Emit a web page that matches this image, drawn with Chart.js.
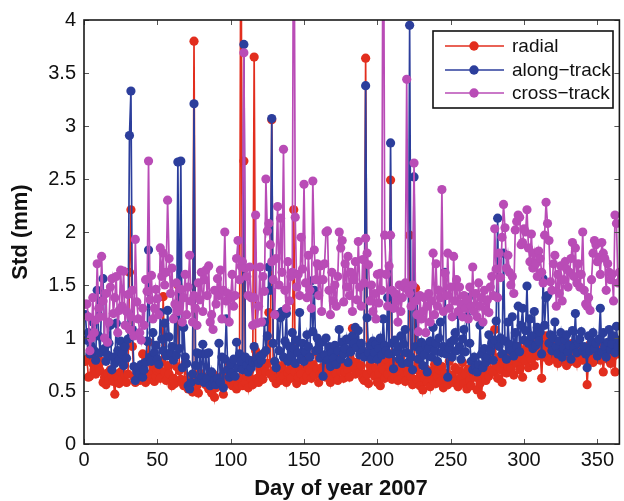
<!DOCTYPE html>
<html>
<head>
<meta charset="utf-8">
<script src="https://cdn.jsdelivr.net/npm/chart.js@4.4.1/dist/chart.umd.min.js"></script>
<style>
html,body{margin:0;padding:0;background:#fff;}
#wrap{width:624px;height:501px;}
</style>
</head>
<body>
<div id="wrap"><canvas id="c" width="624" height="501"></canvas></div>
<script>
// ---- data ----
const days = Array.from({length: 365}, (_, i) => i + 1);
const xTicks = [0, 50, 100, 150, 200, 250, 300, 350];
const yTicks = [0, 0.5, 1, 1.5, 2, 2.5, 3, 3.5, 4];
const seriesNames = ['radial', 'along\u2212track', 'cross\u2212track'];

const radial = [
0.78,0.80,0.63,0.64,0.79,0.76,0.70,0.66,0.83,0.72,
0.69,0.78,0.58,0.63,0.56,0.67,0.60,0.70,0.64,0.59,
0.47,0.66,0.62,0.57,0.68,0.61,0.74,0.65,0.58,0.66,
1.62,2.21,0.92,0.63,0.58,0.69,0.62,0.60,0.71,0.85,
0.64,0.58,0.78,0.96,0.66,0.61,0.73,0.59,0.64,0.69,
0.71,0.62,0.78,1.39,0.68,0.60,0.74,0.66,0.85,0.55,
0.62,0.57,0.73,1.50,0.69,0.61,0.58,0.55,0.77,0.60,
0.52,0.56,0.64,0.49,3.80,0.62,0.55,0.48,0.67,0.59,
0.64,0.62,0.56,0.60,0.52,0.58,0.48,0.66,0.44,0.53,
0.59,0.62,0.55,0.64,0.47,0.68,0.57,0.61,0.76,0.58,
0.55,0.60,0.63,0.52,0.56,0.62,5.50,0.55,2.67,0.58,
0.64,0.53,0.69,0.61,0.56,3.65,0.88,0.62,0.58,0.70,
0.66,0.61,0.72,0.68,0.76,1.24,0.66,3.06,0.62,0.70,
0.57,0.74,0.66,0.60,0.72,0.64,0.78,0.58,0.67,0.70,
0.62,0.74,2.21,0.68,0.57,0.63,0.71,0.66,0.79,0.60,
0.73,0.64,0.82,0.69,0.62,0.75,0.65,0.87,0.71,0.58,
0.66,0.72,0.69,0.80,0.63,0.75,0.68,0.58,0.71,0.64,
0.77,0.66,0.60,0.73,0.69,0.84,0.62,0.68,0.75,0.70,
0.63,0.79,1.09,0.72,0.66,0.77,0.90,0.68,0.74,0.62,
0.60,3.64,0.66,0.57,0.74,0.69,0.81,0.64,0.72,0.58,
0.67,0.55,0.75,0.70,0.62,0.80,0.66,0.73,2.49,0.61,
0.78,0.64,0.69,0.60,0.74,0.82,0.63,0.68,0.59,0.72,
0.67,1.97,0.63,0.56,0.70,1.47,0.61,0.74,0.55,0.66,
0.51,0.62,0.71,0.58,0.66,0.54,0.69,0.60,0.75,0.57,
0.64,0.70,0.59,0.73,0.53,0.67,0.62,0.56,0.78,0.61,
0.65,0.58,0.72,0.60,0.54,0.69,0.63,0.77,0.57,0.66,
0.52,0.71,0.60,0.55,0.68,0.63,0.74,0.51,0.62,0.57,
0.46,0.66,0.72,0.60,0.79,0.64,0.70,0.87,0.68,1.08,
0.74,0.62,0.82,0.70,0.58,0.76,0.84,0.67,0.73,0.88,
0.71,0.79,0.65,0.84,0.76,0.92,0.70,0.81,0.63,0.88,
0.78,0.93,0.72,0.85,0.80,0.96,0.74,0.89,0.83,1.00,
0.87,0.62,0.94,0.82,1.02,0.90,0.78,0.95,0.85,0.98,
0.80,0.91,0.76,0.88,0.83,0.97,0.79,0.86,0.74,0.92,
0.84,0.78,0.95,0.81,0.87,0.76,0.93,0.82,0.89,0.79,
0.85,0.91,0.56,0.80,0.94,0.83,0.77,0.92,0.86,0.81,
0.95,0.79,0.88,0.68,0.84,0.93,0.80,0.87,0.76,0.90,
0.83,0.68,0.94,0.85,0.88
];

const alongTrack = [
1.22,0.98,1.05,0.85,0.92,1.15,0.88,0.79,1.45,1.02,
0.86,1.35,1.56,0.90,0.78,0.84,0.95,1.12,0.70,0.82,
0.76,1.14,0.88,0.80,0.97,0.85,0.74,0.92,0.81,0.99,
2.91,3.33,1.08,0.73,0.60,0.68,0.72,0.66,0.75,0.63,
0.70,0.77,0.97,1.83,0.82,0.78,1.05,0.86,0.93,0.80,
0.75,1.24,0.99,0.88,1.14,0.83,1.26,1.01,0.86,0.92,
0.79,1.19,0.84,2.66,0.90,2.67,0.72,1.10,0.82,0.76,
0.55,0.52,0.58,0.66,3.21,0.74,0.86,0.60,0.85,0.63,
0.94,0.58,0.85,0.62,0.86,0.55,0.68,0.57,0.60,0.56,
0.62,0.95,0.58,0.82,0.53,0.80,1.18,0.70,0.63,0.75,
0.67,0.80,0.64,0.96,0.72,0.85,0.78,0.70,3.77,0.82,
0.74,0.68,0.79,0.72,0.77,0.92,0.78,0.80,0.76,0.83,
0.79,0.85,1.15,0.88,1.02,1.67,1.45,3.07,0.95,0.78,
0.72,1.22,0.88,1.19,1.25,0.82,0.97,1.23,0.78,0.92,
0.83,1.05,0.90,0.76,0.98,0.86,1.24,0.80,0.95,0.78,
0.87,1.03,0.92,0.82,1.54,1.06,1.45,0.88,1.00,0.90,
0.81,0.96,0.64,0.84,1.00,0.79,0.92,0.73,0.86,0.81,
0.93,0.75,0.88,1.08,0.80,0.96,0.85,0.90,0.99,0.77,
0.98,0.87,1.02,0.95,1.10,0.91,1.07,0.84,0.95,0.88,
0.82,3.38,1.19,0.86,0.93,0.80,0.97,0.86,0.94,0.80,
0.90,1.00,0.84,1.18,0.93,0.88,1.38,0.85,2.84,0.95,
0.71,0.98,0.87,0.92,0.80,1.02,0.76,0.94,1.08,0.86,
0.77,3.95,0.82,0.70,2.52,0.92,1.38,0.80,0.88,0.96,
0.74,0.84,0.93,0.68,0.90,0.97,0.82,1.10,0.88,0.95,
0.78,1.00,1.15,0.86,0.92,1.62,0.85,0.63,0.90,0.96,
0.82,0.98,1.05,0.88,1.22,0.92,0.80,0.99,1.08,0.87,
1.20,1.38,0.95,0.78,0.70,0.82,0.73,0.68,0.75,1.12,
0.85,0.72,0.90,0.77,0.82,1.03,0.88,0.95,0.79,0.98,
1.16,2.13,0.92,1.00,0.85,1.80,0.97,0.80,1.15,0.94,
0.88,1.20,0.83,1.05,0.92,1.30,0.87,1.12,1.28,0.98,
1.07,1.49,0.95,1.18,1.02,0.90,1.25,0.93,1.10,0.97,
1.06,0.85,1.56,1.12,1.38,1.40,0.95,1.03,0.88,1.00,
1.15,0.92,0.85,0.97,1.05,0.82,0.90,0.98,1.03,0.87,
0.93,0.80,1.07,0.91,1.23,0.86,0.95,0.99,1.06,0.88,
0.92,0.85,0.72,1.02,0.88,0.97,1.05,0.90,0.95,0.83,
0.99,1.28,0.87,1.05,0.92,0.82,0.96,1.08,0.89,0.94,
1.02,0.86,1.11,0.92,0.98
];

const crossTrack = [
1.32,1.32,1.20,0.88,1.00,1.38,1.05,1.17,1.70,1.28,
1.20,1.77,1.35,1.00,1.42,0.96,1.15,1.48,1.56,1.23,
1.38,1.58,1.05,1.26,1.64,1.30,1.63,1.12,1.25,1.41,
1.08,1.20,1.45,1.02,1.93,1.34,1.18,1.05,0.98,1.28,
1.12,1.55,1.44,2.67,1.36,1.59,1.18,1.28,1.46,1.37,
1.22,1.85,1.58,1.80,1.50,1.62,2.30,1.75,1.42,1.66,
1.18,1.32,1.52,1.25,1.30,1.46,1.15,1.38,1.60,1.22,
1.48,1.78,1.35,1.15,1.40,1.28,1.12,1.52,1.36,1.62,
1.25,1.55,1.64,1.40,1.68,1.15,1.22,1.08,1.45,1.32,
1.56,1.40,1.64,1.18,1.45,2.00,1.35,1.42,1.15,1.38,
1.60,1.30,1.40,1.75,1.92,1.55,1.68,1.72,3.69,1.66,
1.58,1.40,1.67,1.38,1.12,1.38,2.16,1.14,1.30,1.67,
1.15,1.58,1.44,2.50,2.01,2.08,1.88,1.72,1.55,1.22,
1.75,2.24,1.50,2.13,1.62,2.78,1.45,1.28,1.72,1.35,
1.58,1.62,6.00,2.14,1.48,1.60,1.40,1.95,1.65,2.45,
1.52,1.38,1.78,1.45,1.28,2.48,1.83,1.55,1.70,1.40,
1.68,1.25,1.55,1.70,2.00,2.01,1.45,1.22,1.62,1.35,
1.50,1.30,1.58,2.00,1.85,1.92,1.34,1.70,1.48,1.77,
1.40,1.62,1.25,1.55,1.72,1.36,1.91,1.48,1.30,1.74,
1.52,1.94,1.80,1.69,1.35,1.50,1.25,1.42,1.18,1.60,
1.33,1.61,1.45,6.00,1.97,1.60,1.30,1.68,1.97,1.45,
1.28,1.42,1.35,1.15,1.50,1.25,1.38,1.48,1.52,3.44,
1.45,1.42,1.30,1.50,2.65,1.35,1.22,1.06,1.40,1.18,
1.25,1.38,1.05,1.30,1.42,1.15,1.35,1.80,1.22,1.70,
1.30,1.45,1.38,2.40,1.25,1.61,1.40,1.80,1.28,1.48,
1.20,1.77,1.35,1.55,1.25,1.48,1.32,1.20,1.40,1.28,
1.36,1.18,1.48,1.30,1.67,1.25,1.42,1.20,1.52,1.30,
1.38,1.15,1.45,1.26,1.36,1.24,1.48,1.58,1.40,2.03,
1.65,1.38,1.80,1.57,1.95,2.26,2.04,1.66,1.78,1.62,
1.50,1.58,1.42,2.02,2.10,2.16,2.14,1.88,1.90,2.03,
2.00,2.21,1.85,1.72,1.98,1.66,1.80,1.70,1.58,1.82,
1.75,1.62,1.52,1.97,2.28,2.08,1.92,1.53,1.45,1.70,
1.78,1.30,1.60,1.42,1.68,1.35,1.55,1.72,1.65,1.48,
1.62,1.75,1.90,1.58,1.85,1.52,1.70,1.48,1.60,2.00,
1.45,1.32,1.30,1.38,1.26,1.55,1.80,1.92,1.88,1.72,
1.76,1.60,1.90,1.80,1.75,1.45,1.70,1.62,1.55,1.60,
1.35,2.16,2.08,1.52,1.62
];

if (radial.length !== 365 || alongTrack.length !== 365 || crossTrack.length !== 365) {
  throw new Error('length mismatch ' + radial.length + ' ' + alongTrack.length + ' ' + crossTrack.length);
}

// ---- styles ----
const COLORS = ['#E22E1E', '#2C3E9C', '#B94CB6'];
const FONT = 'Liberation Sans, Arial, Helvetica, sans-serif';

const framePlugin = {
  id: 'frame',
  afterDatasetsDraw(chart) {
    const {ctx, chartArea: a, scales: {x, y}} = chart;
    ctx.save();
    ctx.strokeStyle = '#555';
    ctx.lineWidth = 1;
    const tl = 5;
    ctx.beginPath();
    xTicks.forEach(v => {
      const px = Math.round(x.getPixelForValue(v)) + 0.5;
      ctx.moveTo(px, a.bottom); ctx.lineTo(px, a.bottom - tl);
      ctx.moveTo(px, a.top); ctx.lineTo(px, a.top + tl);
    });
    yTicks.forEach(v => {
      const py = Math.round(y.getPixelForValue(v)) + 0.5;
      ctx.moveTo(a.left, py); ctx.lineTo(a.left + tl, py);
      ctx.moveTo(a.right, py); ctx.lineTo(a.right - tl, py);
    });
    ctx.stroke();
    ctx.strokeStyle = '#1a1a1a';
    ctx.lineWidth = 1.6;
    ctx.strokeRect(a.left, a.top, a.right - a.left, a.bottom - a.top);
    ctx.restore();
  },
  afterDraw(chart) {
    const {ctx} = chart;
    ctx.save();
    // x-axis title
    ctx.fillStyle = '#111';
    ctx.font = 'bold 22px ' + FONT;
    ctx.textAlign = 'center';
    ctx.textBaseline = 'alphabetic';
    ctx.fillText('Day of year 2007', 341, 495);
    // legend
    const lx = 433, ly = 31, lw = 180, lh = 77;
    ctx.fillStyle = '#fff';
    ctx.fillRect(lx, ly, lw, lh);
    ctx.strokeStyle = '#111';
    ctx.lineWidth = 1.6;
    ctx.strokeRect(lx, ly, lw, lh);
    const rows = [46, 70, 93];
    chart.data.datasets.forEach((ds, i) => {
      const yy = rows[i];
      ctx.strokeStyle = ds.borderColor;
      ctx.lineWidth = 1.5;
      ctx.beginPath();
      ctx.moveTo(445, yy); ctx.lineTo(504, yy);
      ctx.stroke();
      ctx.fillStyle = ds.borderColor;
      ctx.beginPath();
      ctx.arc(474, yy, 4.7, 0, Math.PI * 2);
      ctx.fill();
      ctx.fillStyle = '#111';
      ctx.font = '19px ' + FONT;
      ctx.textAlign = 'left';
      ctx.textBaseline = 'middle';
      ctx.fillText(ds.label, 512, yy + 1);
    });
    ctx.restore();
  }
};

function makeDataset(label, values, color, order) {
  return {
    label: label,
    data: values,
    borderColor: color,
    backgroundColor: color,
    pointBackgroundColor: color,
    pointBorderColor: color,
    pointBorderWidth: 0,
    pointRadius: 4.6,
    borderWidth: 1.7,
    tension: 0,
    fill: false,
    order: order
  };
}

new Chart(document.getElementById('c'), {
  type: 'line',
  data: {
    labels: days,
    datasets: [
      makeDataset(seriesNames[0], radial, COLORS[0], 2),
      makeDataset(seriesNames[1], alongTrack, COLORS[1], 1),
      makeDataset(seriesNames[2], crossTrack, COLORS[2], 0)
    ]
  },
  options: {
    responsive: false,
    maintainAspectRatio: false,
    animation: false,
    devicePixelRatio: 1,
    layout: {padding: {top: 19, right: 1, left: 0, bottom: 0}},
    plugins: {legend: {display: false}, tooltip: {enabled: false}},
    scales: {
      x: {
        type: 'linear',
        min: 0, max: 365,
        afterBuildTicks: s => { s.ticks = xTicks.map(v => ({value: v})); },
        afterFit: s => { s.height = 57; },
        grid: {display: false, drawTicks: false},
        border: {display: false},
        ticks: {font: {family: FONT, size: 20}, color: '#111', padding: 4, maxRotation: 0, autoSkip: false,
                callback: v => String(v)},
        title: {display: false}
      },
      y: {
        type: 'linear',
        min: 0, max: 4,
        afterBuildTicks: s => { s.ticks = yTicks.map(v => ({value: v})); },
        afterFit: s => { s.width = 84; },
        grid: {display: false, drawTicks: false},
        border: {display: false},
        ticks: {font: {family: FONT, size: 20}, color: '#111', padding: 8, autoSkip: false,
                callback: v => String(v)},
        title: {display: true, text: 'Std (mm)', font: {family: FONT, size: 22, weight: 'bold'}, color: '#111', padding: {top: 8, bottom: 0}}
      }
    }
  },
  plugins: [framePlugin]
});
</script>
</body>
</html>
